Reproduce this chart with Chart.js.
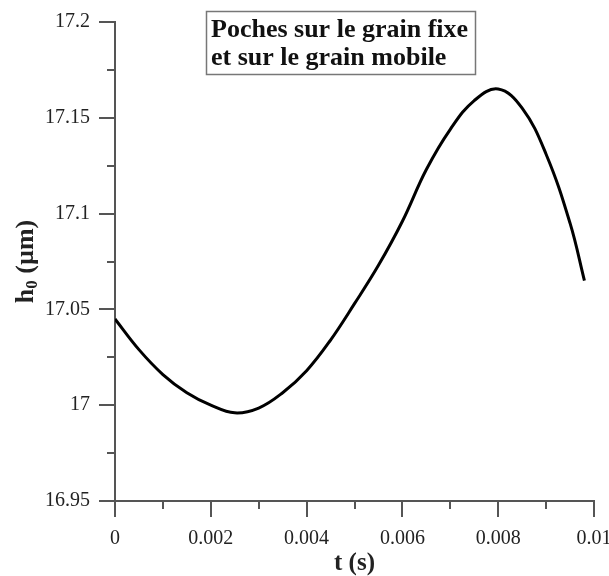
<!DOCTYPE html>
<html>
<head>
<meta charset="utf-8">
<script src="https://cdn.jsdelivr.net/npm/chart.js@4/dist/chart.umd.min.js"></script>
<style>
  html, body { margin: 0; padding: 0; background: #fff; }
  #wrap { width: 609px; height: 576px; position: relative; }
</style>
</head>
<body>
<div id="wrap"><canvas id="c"></canvas></div>
<script>
'use strict';

// ─── data ───
const tValues = [0, 0.0005, 0.001, 0.0015, 0.002, 0.0025, 0.003, 0.0035, 0.004, 0.0045,
  0.005, 0.0055, 0.006, 0.0065, 0.007, 0.0075, 0.008, 0.0085, 0.009, 0.0095, 0.0098];
const hValues = [17.045, 17.029, 17.016, 17.0065, 17.0, 16.996, 16.9985, 17.0065, 17.018, 17.034,
  17.053, 17.073, 17.096, 17.123, 17.144, 17.159, 17.165, 17.155, 17.131, 17.095, 17.065];

const xTickValues = [0, 0.002, 0.004, 0.006, 0.008, 0.01];
const xTickLabels = ['0', '0.002', '0.004', '0.006', '0.008', '0.01'];
const xMinorTicks = [0.001, 0.003, 0.005, 0.007, 0.009];

const yTickValues = [16.95, 17, 17.05, 17.1, 17.15, 17.2];
const yTickLabels = ['16.95', '17', '17.05', '17.1', '17.15', '17.2'];
const yMinorTicks = [16.975, 17.025, 17.075, 17.125, 17.175];

const boxLines = ['Poches sur le grain fixe', 'et sur le grain mobile'];

const SERIF = "'Liberation Serif', 'Times New Roman', serif";
const AXIS = '#555';
const TEXT = '#222';

// minor ticks, y title with subscript, annotation box
const extras = {
  id: 'extras',
  afterDraw(chart) {
    const { ctx, scales: { x, y }, chartArea } = chart;
    ctx.save();
    ctx.strokeStyle = AXIS;
    ctx.lineWidth = 2;
    ctx.beginPath();
    xMinorTicks.forEach(v => {
      const px = Math.round(x.getPixelForValue(v));
      ctx.moveTo(px, chartArea.bottom);
      ctx.lineTo(px, chartArea.bottom + 8);
    });
    yMinorTicks.forEach(v => {
      const py = Math.round(y.getPixelForValue(v));
      ctx.moveTo(chartArea.left, py);
      ctx.lineTo(chartArea.left - 8, py);
    });
    ctx.stroke();

    // y title: h0 (µm) with subscript, rotated
    const big = 'bold 26px ' + SERIF;
    const small = 'bold 17px ' + SERIF;
    ctx.font = big;
    const wH = ctx.measureText('h').width;
    const wRest = ctx.measureText(' (µm)').width;
    ctx.font = small;
    const wSub = ctx.measureText('0').width;
    const total = wH + wSub + wRest;
    const cy = (chartArea.top + chartArea.bottom) / 2;
    ctx.translate(33, cy);
    ctx.rotate(-Math.PI / 2);
    ctx.fillStyle = TEXT;
    ctx.textBaseline = 'alphabetic';
    ctx.textAlign = 'left';
    let cx = -total / 2;
    ctx.font = big;
    ctx.fillText('h', cx, 0);
    cx += wH;
    ctx.font = small;
    ctx.fillText('0', cx, 4);
    cx += wSub;
    ctx.font = big;
    ctx.fillText(' (µm)', cx, 0);
    ctx.restore();

    // annotation box
    ctx.save();
    ctx.fillStyle = '#fff';
    ctx.fillRect(206, 11, 270, 64);
    ctx.strokeStyle = '#777';
    ctx.lineWidth = 1.5;
    ctx.strokeRect(206.5, 11.5, 269, 63);
    ctx.fillStyle = '#111';
    ctx.font = 'bold 26px ' + SERIF;
    ctx.textAlign = 'left';
    ctx.textBaseline = 'alphabetic';
    ctx.fillText(boxLines[0], 211, 37);
    ctx.fillText(boxLines[1], 211, 65);
    ctx.restore();
  }
};

new Chart(document.getElementById('c'), {
  type: 'line',
  data: {
    datasets: [{
      data: tValues.map((t, i) => ({ x: t, y: hValues[i] })),
      borderColor: '#000',
      borderWidth: 3,
      pointRadius: 0,
      tension: 0.4,
      fill: false,
    }],
  },
  options: {
    responsive: true,
    maintainAspectRatio: false,
    animation: false,
    events: [],
    layout: { padding: { top: 22, right: 15, left: 0, bottom: 0 } },
    plugins: { legend: { display: false }, tooltip: { enabled: false } },
    scales: {
      x: {
        type: 'linear',
        min: 0,
        max: 0.01,
        afterBuildTicks: s => { s.ticks = xTickValues.map(v => ({ value: v })); },
        afterFit: s => { s.height = 75; s.paddingLeft = 0; s.paddingRight = 0; },
        border: { color: AXIS, width: 2 },
        grid: { drawOnChartArea: false, drawTicks: true, tickLength: 16, tickColor: AXIS, lineWidth: 2 },
        ticks: {
          color: TEXT,
          padding: 10,
          maxRotation: 0,
          autoSkip: false,
          font: { family: SERIF, size: 20 },
          callback: (v, i) => xTickLabels[i],
        },
        title: {
          display: true,
          text: 't (s)',
          color: TEXT,
          padding: { top: 0, bottom: 0 },
          font: { family: SERIF, size: 25, weight: 'bold', lineHeight: 1 },
        },
      },
      y: {
        type: 'linear',
        min: 16.95,
        max: 17.2,
        afterBuildTicks: s => { s.ticks = yTickValues.map(v => ({ value: v })); },
        afterFit: s => { s.width = 115; s.paddingTop = 0; s.paddingBottom = 0; },
        border: { color: AXIS, width: 2 },
        grid: { drawOnChartArea: false, drawTicks: true, tickLength: 16, tickColor: AXIS, lineWidth: 2 },
        ticks: {
          color: TEXT,
          padding: 9,
          autoSkip: false,
          font: { family: SERIF, size: 20 },
          callback: (v, i) => yTickLabels[i],
        },
      },
    },
  },
  plugins: [extras],
});
</script>
</body>
</html>
